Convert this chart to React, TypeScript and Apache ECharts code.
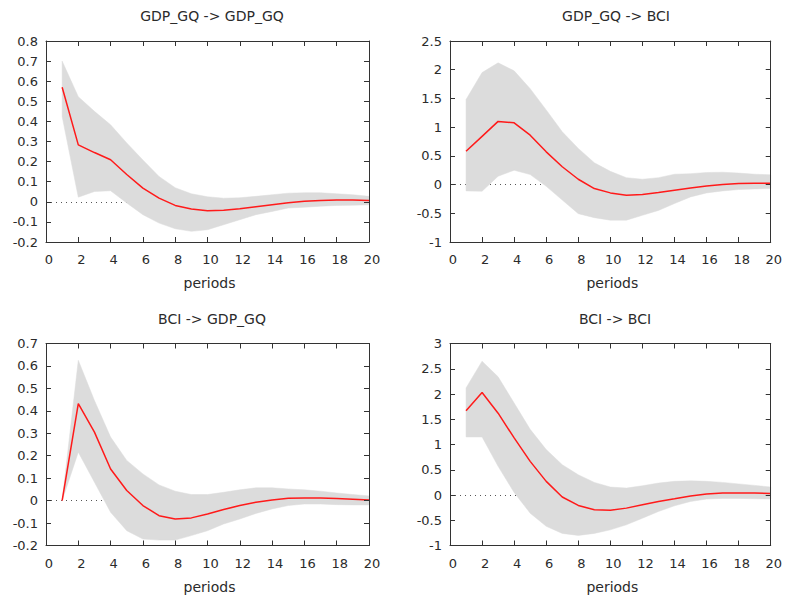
import React, { useEffect, useRef } from "react";
import * as echarts from "echarts";

// ---- data ----
const periods = [1, 2, 3, 4, 5, 6, 7, 8, 9, 10, 11, 12, 13, 14, 15, 16, 17, 18, 19, 20];

const titles = ["GDP_GQ -> GDP_GQ", "GDP_GQ -> BCI", "BCI -> GDP_GQ", "BCI -> BCI"];
const xAxisLabel = "periods";

// GDP_GQ -> GDP_GQ
const gdpToGdpResp = [0.57, 0.283, 0.245, 0.209, 0.136, 0.068, 0.018, -0.018, -0.036, -0.045, -0.042, -0.035, -0.025, -0.015, -0.005, 0.003, 0.007, 0.009, 0.009, 0.007];
const gdpToGdpLower = [0.424, 0.023, 0.051, 0.055, -0.006, -0.064, -0.106, -0.134, -0.147, -0.139, -0.114, -0.089, -0.064, -0.048, -0.031, -0.027, -0.022, -0.018, -0.017, -0.015];
const gdpToGdpUpper = [0.70, 0.523, 0.45, 0.383, 0.293, 0.208, 0.126, 0.07, 0.04, 0.025, 0.018, 0.02, 0.027, 0.035, 0.043, 0.045, 0.045, 0.04, 0.035, 0.027];

// GDP_GQ -> BCI
const gdpToBciResp = [0.58, 0.84, 1.10, 1.075, 0.86, 0.57, 0.31, 0.093, -0.07, -0.145, -0.186, -0.174, -0.14, -0.1, -0.06, -0.023, 0.0, 0.017, 0.023, 0.023];
const gdpToBciLower = [-0.11, -0.116, 0.145, 0.25, 0.174, -0.03, -0.27, -0.506, -0.576, -0.62, -0.62, -0.535, -0.45, -0.33, -0.215, -0.145, -0.11, -0.087, -0.076, -0.07];
const gdpToBciUpper = [1.48, 1.95, 2.12, 1.98, 1.67, 1.30, 0.92, 0.63, 0.38, 0.23, 0.12, 0.093, 0.12, 0.18, 0.19, 0.21, 0.215, 0.2, 0.18, 0.17];

// BCI -> GDP_GQ
const bciToGdpResp = [0.0, 0.432, 0.305, 0.141, 0.045, -0.022, -0.067, -0.082, -0.077, -0.06, -0.04, -0.022, -0.007, 0.003, 0.01, 0.012, 0.012, 0.009, 0.006, 0.003];
const bciToGdpLower = [0.0, 0.216, 0.082, -0.052, -0.134, -0.171, -0.176, -0.176, -0.156, -0.134, -0.104, -0.082, -0.057, -0.037, -0.022, -0.015, -0.015, -0.018, -0.019, -0.019];
const bciToGdpUpper = [0.0, 0.625, 0.446, 0.283, 0.179, 0.119, 0.07, 0.042, 0.027, 0.027, 0.037, 0.048, 0.057, 0.057, 0.052, 0.048, 0.042, 0.034, 0.027, 0.021];

// BCI -> BCI
const bciToBciResp = [1.67, 2.03, 1.62, 1.13, 0.666, 0.27, -0.04, -0.207, -0.293, -0.3, -0.26, -0.194, -0.128, -0.075, -0.02, 0.018, 0.038, 0.038, 0.038, 0.03];
const bciToBciLower = [1.15, 1.15, 0.567, 0.05, -0.36, -0.62, -0.76, -0.8, -0.76, -0.69, -0.59, -0.46, -0.326, -0.214, -0.128, -0.08, -0.067, -0.067, -0.075, -0.08];
const bciToBciUpper = [2.12, 2.65, 2.34, 1.82, 1.30, 0.9, 0.6, 0.4, 0.25, 0.157, 0.137, 0.183, 0.236, 0.27, 0.28, 0.27, 0.25, 0.22, 0.19, 0.157];

const responses = [gdpToGdpResp, gdpToBciResp, bciToGdpResp, bciToBciResp];
const lowers = [gdpToGdpLower, gdpToBciLower, bciToGdpLower, bciToBciLower];
const uppers = [gdpToGdpUpper, gdpToBciUpper, bciToGdpUpper, bciToBciUpper];

const yMins = [-0.2, -1, -0.2, -1];
const yMaxs = [0.8, 2.5, 0.7, 3];
const yIntervals = [0.1, 0.5, 0.1, 0.5];
const xMin = 0;
const xMax = 20;
const xInterval = 2;

// ---- layout / style ----
const gridBoxes = [
  { left: 46, top: 41, width: 323, height: 201 },
  { left: 450, top: 41, width: 323, height: 201 },
  { left: 46, top: 343.5, width: 323, height: 202 },
  { left: 450, top: 343.5, width: 323, height: 202 },
];
const titleCenters = [
  { x: 212, top: 9 },
  { x: 616, top: 9 },
  { x: 212, top: 312 },
  { x: 615, top: 312 },
];

const FONT = "DejaVu Sans";
const TEXT = "#2b2b2b";
const FRAME = "#333333";
const BAND = "#dcdcdc";
const RED = "#ff1a1a";

function buildOption() {
  const grid: any[] = [];
  const xAxis: any[] = [];
  const yAxis: any[] = [];
  const series: any[] = [];
  const title: any[] = [];

  for (let k = 0; k < 4; k++) {
    grid.push({ ...gridBoxes[k], containLabel: false, show: false });
    title.push({
      text: titles[k],
      left: titleCenters[k].x,
      top: titleCenters[k].top,
      textAlign: "center",
      padding: 0,
      textStyle: { fontFamily: FONT, fontSize: 14, fontWeight: "normal", color: TEXT },
    });

    const axisLineStyle = { show: true, onZero: false, lineStyle: { color: FRAME, width: 1 } };
    const tickStyle = { show: true, inside: true, length: 5, lineStyle: { color: FRAME, width: 1 } };

    xAxis.push({
      type: "value",
      gridIndex: k,
      position: "bottom",
      min: xMin,
      max: xMax,
      interval: xInterval,
      z: 10,
      axisLine: axisLineStyle,
      axisTick: tickStyle,
      splitLine: { show: false },
      axisLabel: {
        show: true,
        margin: 11,
        padding: [0, 0, 0, 6],
        fontFamily: FONT,
        fontSize: 13,
        color: TEXT,
      },
      name: xAxisLabel,
      nameLocation: "middle",
      nameGap: 34,
      nameTextStyle: { fontFamily: FONT, fontSize: 14, color: TEXT, padding: [0, 0, 0, 4] },
    });
    xAxis.push({
      type: "value",
      gridIndex: k,
      position: "top",
      min: xMin,
      max: xMax,
      interval: xInterval,
      z: 10,
      axisLine: axisLineStyle,
      axisTick: tickStyle,
      splitLine: { show: false },
      axisLabel: { show: false },
    });
    yAxis.push({
      type: "value",
      gridIndex: k,
      position: "left",
      min: yMins[k],
      max: yMaxs[k],
      interval: yIntervals[k],
      z: 10,
      axisLine: axisLineStyle,
      axisTick: tickStyle,
      splitLine: { show: false },
      axisLabel: { show: true, margin: 8, fontFamily: FONT, fontSize: 13, color: TEXT },
    });
    yAxis.push({
      type: "value",
      gridIndex: k,
      position: "right",
      min: yMins[k],
      max: yMaxs[k],
      interval: yIntervals[k],
      z: 10,
      axisLine: axisLineStyle,
      axisTick: tickStyle,
      splitLine: { show: false },
      axisLabel: { show: false },
    });

    const lo = lowers[k];
    const up = uppers[k];
    const resp = responses[k];

    // zero reference line (dotted), beneath the band
    series.push({
      type: "line",
      xAxisIndex: 2 * k,
      yAxisIndex: 2 * k,
      data: [],
      z: 1,
      silent: true,
      markLine: {
        z: 1,
        silent: true,
        symbol: ["none", "none"],
        label: { show: false },
        lineStyle: { color: "#555555", width: 1, type: [1, 4] },
        data: [{ yAxis: 0 }],
        animation: false,
      },
    });

    // confidence band
    series.push({
      type: "custom",
      xAxisIndex: 2 * k,
      yAxisIndex: 2 * k,
      z: 4,
      silent: true,
      data: periods.map((p, i) => [p, lo[i], up[i]]),
      encode: { x: 0, y: [1, 2] },
      renderItem: (params: any, api: any) => {
        if (params.dataIndex !== 0) return null;
        const top = periods.map((p, i) => api.coord([p, up[i]]));
        const bottom = periods.map((p, i) => api.coord([p, lo[i]])).reverse();
        return {
          type: "polygon",
          shape: { points: top.concat(bottom) },
          style: { fill: BAND, stroke: BAND, lineWidth: 0.5 },
        };
      },
    });

    // point estimate
    series.push({
      type: "line",
      xAxisIndex: 2 * k,
      yAxisIndex: 2 * k,
      z: 6,
      data: periods.map((p, i) => [p, resp[i]]),
      showSymbol: false,
      symbol: "none",
      lineStyle: { color: RED, width: 1.5 },
      silent: true,
    });
  }

  return {
    animation: false,
    backgroundColor: "#ffffff",
    title,
    grid,
    xAxis,
    yAxis,
    series,
  };
}

export default function App() {
  const ref = useRef<HTMLDivElement>(null);
  useEffect(() => {
    if (!ref.current) return;
    const chart = echarts.init(ref.current, null, { renderer: "svg" });
    chart.setOption(buildOption() as any);
    return () => chart.dispose();
  }, []);
  return (
    <div
      ref={ref}
      style={{ position: "fixed", left: 0, top: 0, width: 785, height: 599, background: "#fff" }}
    />
  );
}
